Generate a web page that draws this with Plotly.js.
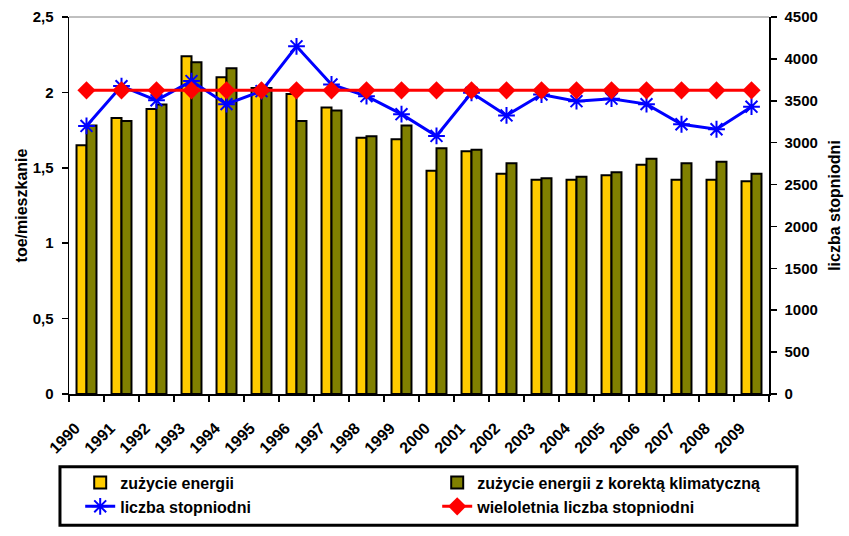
<!DOCTYPE html>
<html>
<head>
<meta charset="utf-8">
<script src="https://cdn.plot.ly/plotly-3.0.1.min.js"></script>
<style>body{margin:0;background:#fff}#chart{width:849px;height:536px}</style>
</head>
<body>
<div id="chart"></div>
<script>
const years = ["1990","1991","1992","1993","1994","1995","1996","1997","1998","1999","2000","2001","2002","2003","2004","2005","2006","2007","2008","2009"];
const energy = [1.65,1.83,1.89,2.24,2.10,2.03,1.99,1.90,1.70,1.69,1.48,1.61,1.46,1.42,1.42,1.45,1.52,1.42,1.42,1.41];
const energyCorrected = [1.78,1.81,1.92,2.20,2.16,2.03,1.81,1.88,1.71,1.78,1.63,1.62,1.53,1.43,1.44,1.47,1.56,1.53,1.54,1.46];
const degreeDays = [3200,3675,3505,3735,3460,3615,4150,3695,3555,3340,3080,3595,3325,3575,3495,3525,3460,3220,3160,3430];
const longTermDegreeDays = Array(20).fill(3625);

const FAM = "Liberation Sans, Arial, sans-serif";
const bold = t => "<b>" + t + "</b>";
const tickFont = {family: FAM, size: 15, color: "#000", weight: "bold"};

const traces = [
  {type:"bar", name: bold("zużycie energii"), x: years, y: energy, legend:"legend", legendgroup:"a",
   marker:{color:"#FFCC00", line:{color:"#000", width:2}}},
  {type:"bar", name: bold("zużycie energii z korektą klimatyczną"), x: years, y: energyCorrected, legend:"legend2", legendgroup:"b",
   marker:{color:"#808000", line:{color:"#000", width:2}}},
  {type:"scatter", mode:"lines+markers", name: bold("liczba stopniodni"), x: years, y: degreeDays, yaxis:"y2", legend:"legend", legendgroup:"c",
   line:{color:"#0000FF", width:3}, marker:{symbol:"asterisk-open", size:14, color:"#0000FF", line:{color:"#0000FF", width:2}}},
  {type:"scatter", mode:"lines+markers", name: bold("wieloletnia liczba stopniodni"), x: years, y: longTermDegreeDays, yaxis:"y2", legend:"legend2", legendgroup:"d",
   line:{color:"#FF0000", width:3}, marker:{symbol:"diamond", size:14, color:"#FF0000"}}
];

const legendBase = {
  orientation: "v", xanchor: "left", yanchor: "top", y: -0.19,
  bgcolor: "rgba(0,0,0,0)", borderwidth: 0,
  font: {family: FAM, size: 16, color: "#000"},
  traceorder: "normal", itemwidth: 30, tracegroupgap: 7
};

const layout = {
  width: 849, height: 536,
  margin: {l: 69, r: 80, t: 17, b: 140},
  paper_bgcolor: "#fff", plot_bgcolor: "#fff",
  font: {family: FAM, size: 14, color: "#000"},
  separators: ", ",
  showlegend: true,
  barmode: "group",
  bargap: 0.43,
  bargroupgap: 0,
  xaxis: {
    type: "category", range: [-0.5, 19.5], autorange: false,
    tickangle: -45, tickson: "boundaries",
    ticks: "outside", ticklen: 6, tickcolor: "#000", tickwidth: 1.5,
    showline: true, linecolor: "#000", linewidth: 1.5, showgrid: false,
    ticklabelshift: -11, ticklabelstandoff: 17,
    tickfont: {family: FAM, size: 16, color: "#000", weight: "bold"}
  },
  yaxis: {
    range: [0, 2.5], dtick: 0.5, tick0: 0,
    ticks: "outside", ticklen: 6, tickcolor: "#000", tickwidth: 1.5,
    showline: true, linecolor: "#000", linewidth: 1.5, showgrid: false, zeroline: false,
    ticklabelstandoff: 5,
    tickfont: tickFont,
    title: {text: bold("toe/mieszkanie"), font: {family: FAM, size: 16, color: "#000"}, standoff: 1}
  },
  yaxis2: {
    overlaying: "y", side: "right", range: [0, 4500], dtick: 500, tick0: 0,
    ticks: "outside", ticklen: 6, tickcolor: "#000", tickwidth: 1.5,
    showline: true, linecolor: "#000", linewidth: 1.5, showgrid: false, zeroline: false,
    ticklabelstandoff: 5,
    tickfont: tickFont,
    title: {text: bold("liczba stopniodni"), font: {family: FAM, size: 16, color: "#000"}, standoff: 12}
  },
  legend: Object.assign({}, legendBase, {x: 0.016}),
  legend2: Object.assign({}, legendBase, {x: 0.526}),
  shapes: [
    {type:"line", xref:"paper", yref:"paper", x0:0, x1:1, y0:1, y1:1, line:{color:"#808080", width:1}},
    {type:"rect", xref:"paper", yref:"paper", x0:-0.0129, x1:1.04, y0:-0.348, y1:-0.193, line:{color:"#000", width:3}, fillcolor:"rgba(0,0,0,0)"}
  ]
};

Plotly.newPlot("chart", traces, layout, {displayModeBar: false, staticPlot: true});
</script>
</body>
</html>
